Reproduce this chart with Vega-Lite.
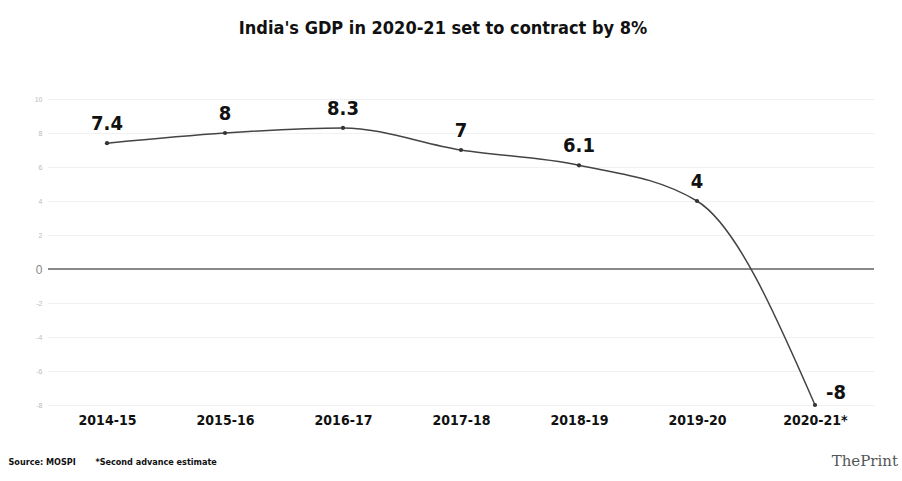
{
  "$schema": "https://vega.github.io/schema/vega-lite/v6.json",
  "width": 826,
  "height": 306,
  "autosize": {"type": "none"},
  "padding": {"left": 48, "top": 99, "right": 28, "bottom": 76},
  "background": "white",
  "title": {
    "text": "India's GDP in 2020-21 set to contract by 8%",
    "font": "DejaVu Sans Condensed, Liberation Sans Narrow, sans-serif",
    "fontSize": 18,
    "fontWeight": "bold",
    "color": "#111",
    "anchor": "middle",
    "offset": 57,
    "dx": -18
  },
  "config": {
    "view": {"stroke": null},
    "locale": {"number": {"decimal": ".", "thousands": ",", "grouping": [3], "currency": ["$", ""], "minus": "-"}}
  },
  "data": {
    "values": [
      {"year": "2014-15", "gdp": 7.4},
      {"year": "2015-16", "gdp": 8},
      {"year": "2016-17", "gdp": 8.3},
      {"year": "2017-18", "gdp": 7},
      {"year": "2018-19", "gdp": 6.1},
      {"year": "2019-20", "gdp": 4},
      {"year": "2020-21*", "gdp": -8}
    ]
  },
  "encoding": {
    "x": {
      "field": "year",
      "type": "ordinal",
      "sort": null,
      "scale": {"type": "point", "padding": 0.5},
      "axis": {
        "labelAngle": 0,
        "labelFont": "DejaVu Sans Condensed, Liberation Sans Narrow, sans-serif",
        "labelFontSize": 14,
        "labelFontWeight": "bold",
        "labelColor": "#111",
        "labelPadding": 8,
        "ticks": false,
        "domain": false,
        "grid": false,
        "title": "Source: MOSPI\u00a0\u00a0\u00a0\u00a0\u00a0\u00a0\u00a0*Second advance estimate",
        "titleFont": "DejaVu Sans Condensed, Liberation Sans Narrow, sans-serif",
        "titleFontSize": 9,
        "titleFontWeight": "bold",
        "titleColor": "#111",
        "titleAnchor": "start",
        "titleAlign": "left",
        "titleX": -40,
        "titleY": 52
      }
    },
    "y": {
      "field": "gdp",
      "type": "quantitative",
      "scale": {"domain": [-8, 10], "nice": false},
      "axis": {
        "values": [-8, -6, -4, -2, 0, 2, 4, 6, 8, 10],
        "title": null,
        "domain": false,
        "ticks": false,
        "labelColor": {"condition": {"test": "datum.value == 0", "value": "#888"}, "value": "#bbb"},
        "labelFontSize": {"condition": {"test": "datum.value == 0", "value": 12}, "value": 7},
        "labelPadding": 6,
        "grid": true,
        "gridColor": {"condition": {"test": "datum.value == 0", "value": "#ffffff"}, "value": "#f1f1f1"},
        "gridWidth": 1
      }
    }
  },
  "layer": [
    {
      "mark": {"type": "rule", "color": "#888", "strokeWidth": 1},
      "encoding": {"y": {"datum": 0}, "x": null}
    },
    {
      "mark": {"type": "line", "interpolate": "monotone", "color": "#444", "strokeWidth": 1.5}
    },
    {
      "mark": {"type": "point", "filled": true, "color": "#333", "size": 18, "opacity": 1}
    },
    {
      "transform": [{"filter": "datum.gdp > 0"}],
      "mark": {
        "type": "text",
        "dy": -19,
        "font": "DejaVu Sans Condensed, Liberation Sans Narrow, sans-serif",
        "fontSize": 20,
        "fontWeight": "bold",
        "color": "#111"
      },
      "encoding": {"text": {"field": "gdp", "type": "quantitative", "format": ".2~f"}}
    },
    {
      "transform": [{"filter": "datum.gdp < 0"}],
      "mark": {
        "type": "text",
        "dx": 21,
        "dy": -12,
        "font": "DejaVu Sans Condensed, Liberation Sans Narrow, sans-serif",
        "fontSize": 20,
        "fontWeight": "bold",
        "color": "#111"
      },
      "encoding": {"text": {"field": "gdp", "type": "quantitative", "format": ".2~f"}}
    },
    {
      "data": {"values": [{"brand": "ThePrint"}]},
      "mark": {
        "type": "text",
        "align": "right",
        "baseline": "middle",
        "font": "DejaVu Serif, Liberation Serif, serif",
        "fontSize": 15,
        "color": "#555",
        "dx": 24,
        "dy": 56
      },
      "encoding": {
        "x": {"value": 826},
        "y": {"value": 306},
        "text": {"field": "brand"}
      }
    }
  ]
}
